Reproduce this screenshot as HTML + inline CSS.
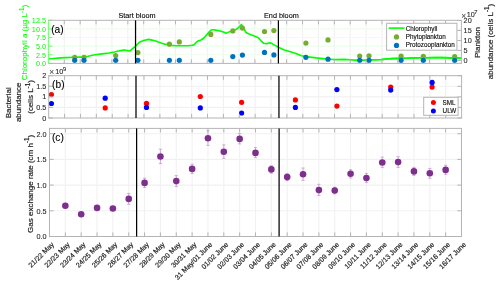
<!DOCTYPE html>
<html><head><meta charset="utf-8"><title>Figure</title>
<style>html,body{margin:0;padding:0;background:#fff;}body{width:500px;height:285px;overflow:hidden;}svg{display:block;}</style>
</head><body>
<svg width="500" height="285" viewBox="0 0 500 285" font-family="'Liberation Sans', sans-serif">
<rect width="500" height="285" fill="#fff"/>
<line x1="64.28" y1="20.3" x2="64.28" y2="63.4" stroke="#f1f1f1" stroke-width="1.1"/>
<line x1="80.17" y1="20.3" x2="80.17" y2="63.4" stroke="#f1f1f1" stroke-width="1.1"/>
<line x1="96.05" y1="20.3" x2="96.05" y2="63.4" stroke="#f1f1f1" stroke-width="1.1"/>
<line x1="111.94" y1="20.3" x2="111.94" y2="63.4" stroke="#f1f1f1" stroke-width="1.1"/>
<line x1="127.82" y1="20.3" x2="127.82" y2="63.4" stroke="#f1f1f1" stroke-width="1.1"/>
<line x1="143.71" y1="20.3" x2="143.71" y2="63.4" stroke="#f1f1f1" stroke-width="1.1"/>
<line x1="159.59" y1="20.3" x2="159.59" y2="63.4" stroke="#f1f1f1" stroke-width="1.1"/>
<line x1="175.48" y1="20.3" x2="175.48" y2="63.4" stroke="#f1f1f1" stroke-width="1.1"/>
<line x1="191.36" y1="20.3" x2="191.36" y2="63.4" stroke="#f1f1f1" stroke-width="1.1"/>
<line x1="207.25" y1="20.3" x2="207.25" y2="63.4" stroke="#f1f1f1" stroke-width="1.1"/>
<line x1="223.13" y1="20.3" x2="223.13" y2="63.4" stroke="#f1f1f1" stroke-width="1.1"/>
<line x1="239.02" y1="20.3" x2="239.02" y2="63.4" stroke="#f1f1f1" stroke-width="1.1"/>
<line x1="254.90" y1="20.3" x2="254.90" y2="63.4" stroke="#f1f1f1" stroke-width="1.1"/>
<line x1="270.78" y1="20.3" x2="270.78" y2="63.4" stroke="#f1f1f1" stroke-width="1.1"/>
<line x1="286.67" y1="20.3" x2="286.67" y2="63.4" stroke="#f1f1f1" stroke-width="1.1"/>
<line x1="302.55" y1="20.3" x2="302.55" y2="63.4" stroke="#f1f1f1" stroke-width="1.1"/>
<line x1="318.44" y1="20.3" x2="318.44" y2="63.4" stroke="#f1f1f1" stroke-width="1.1"/>
<line x1="334.32" y1="20.3" x2="334.32" y2="63.4" stroke="#f1f1f1" stroke-width="1.1"/>
<line x1="350.21" y1="20.3" x2="350.21" y2="63.4" stroke="#f1f1f1" stroke-width="1.1"/>
<line x1="366.09" y1="20.3" x2="366.09" y2="63.4" stroke="#f1f1f1" stroke-width="1.1"/>
<line x1="381.98" y1="20.3" x2="381.98" y2="63.4" stroke="#f1f1f1" stroke-width="1.1"/>
<line x1="397.86" y1="20.3" x2="397.86" y2="63.4" stroke="#f1f1f1" stroke-width="1.1"/>
<line x1="413.75" y1="20.3" x2="413.75" y2="63.4" stroke="#f1f1f1" stroke-width="1.1"/>
<line x1="429.63" y1="20.3" x2="429.63" y2="63.4" stroke="#f1f1f1" stroke-width="1.1"/>
<line x1="445.52" y1="20.3" x2="445.52" y2="63.4" stroke="#f1f1f1" stroke-width="1.1"/>
<line x1="48.4" y1="28.92" x2="461.4" y2="28.92" stroke="#e9ffe9" stroke-width="1.1"/>
<line x1="48.4" y1="37.54" x2="461.4" y2="37.54" stroke="#e9ffe9" stroke-width="1.1"/>
<line x1="48.4" y1="46.16" x2="461.4" y2="46.16" stroke="#e9ffe9" stroke-width="1.1"/>
<line x1="48.4" y1="54.78" x2="461.4" y2="54.78" stroke="#e9ffe9" stroke-width="1.1"/>
<polyline fill="none" stroke="#00ff00" stroke-width="1.6" stroke-linejoin="round" points="48.4,59.0 56,58.3 60,57.9 66,57.6 74,57.3 80,57.1 84,56.9 88,56.2 95,54.8 102,53.9 109,53.0 114.6,52.0 118.4,51.0 122,50.4 124.7,50.0 127,50.5 128.9,51.0 130.3,50.6 131.5,49.6 133.5,47.9 135.6,46.1 139.4,42.3 143.6,40.5 148.5,39.4 152,40.1 155.7,41.1 159,42.3 162.5,43.4 166,44.4 171.6,45.4 176,45.7 180,45.8 183.6,45.7 189,45.6 192,45.3 193.9,44.9 196,42.4 198.1,41.0 200.9,40.0 202.5,39.0 204.4,37.5 206.5,35.1 208.6,32.6 210.2,30.9 211.7,29.8 213.5,29.8 215.6,30.1 221.2,31.2 224,32.3 226.1,33.3 227.5,32.6 228.9,31.9 233.8,30.5 237.3,28.7 239.5,26.6 241.4,24.5 243,27.0 246,32.5 249.7,34.3 254.9,36.2 258.3,37.7 260.8,40.6 263.7,43.3 266.7,43.6 270.4,42.8 273.6,44.6 278.5,47.3 283.6,49.8 289.5,51.4 295.4,53.2 301.3,55.8 305,56.4 310,57.1 316,57.9 322.9,58.6 330,59.2 335.7,59.6 344.3,59.4 350,59.8 355,60.1 362,60.1 370,59.9 376,59.9 381.4,59.6 386,59.0 392,58.6 400,58.4 406,58.2 413.6,57.9 425,57.7 435,57.5 442,57.6 450,57.9 456,57.9 461.4,57.9"/>
<circle cx="74.7" cy="57.3" r="2.6" fill="#77ac30"/>
<circle cx="84" cy="57.3" r="2.6" fill="#77ac30"/>
<circle cx="115.7" cy="55.5" r="2.6" fill="#77ac30"/>
<circle cx="137.9" cy="52.6" r="2.6" fill="#77ac30"/>
<circle cx="169.4" cy="44.2" r="2.6" fill="#77ac30"/>
<circle cx="179.3" cy="41.9" r="2.6" fill="#77ac30"/>
<circle cx="210.8" cy="34.4" r="2.6" fill="#77ac30"/>
<circle cx="232.8" cy="30.9" r="2.6" fill="#77ac30"/>
<circle cx="242.4" cy="28.1" r="2.6" fill="#77ac30"/>
<circle cx="264.5" cy="31.6" r="2.6" fill="#77ac30"/>
<circle cx="273.9" cy="30.5" r="2.6" fill="#77ac30"/>
<circle cx="305.9" cy="43.1" r="2.6" fill="#77ac30"/>
<circle cx="328" cy="39.9" r="2.6" fill="#77ac30"/>
<circle cx="359.7" cy="56" r="2.6" fill="#77ac30"/>
<circle cx="369" cy="55.8" r="2.6" fill="#77ac30"/>
<circle cx="401.1" cy="56" r="2.6" fill="#77ac30"/>
<circle cx="423.3" cy="56.4" r="2.6" fill="#77ac30"/>
<circle cx="454.7" cy="56.5" r="2.6" fill="#77ac30"/>
<polyline fill="none" stroke="#00ff00" stroke-width="1.6" stroke-linejoin="round" points="381.4,59.6 386,59.0 392,58.6 400,58.4 406,58.2 413.6,57.9 425,57.7 435,57.5 442,57.6 450,57.9 456,57.9 461.4,57.9"/>
<circle cx="74.7" cy="60.3" r="2.6" fill="#0072bd"/>
<circle cx="84" cy="60.3" r="2.6" fill="#0072bd"/>
<circle cx="115.7" cy="60.3" r="2.6" fill="#0072bd"/>
<circle cx="137.9" cy="60.3" r="2.6" fill="#0072bd"/>
<circle cx="169.4" cy="60.3" r="2.6" fill="#0072bd"/>
<circle cx="179.3" cy="60.3" r="2.6" fill="#0072bd"/>
<circle cx="210.8" cy="60.3" r="2.6" fill="#0072bd"/>
<circle cx="232.8" cy="56.6" r="2.6" fill="#0072bd"/>
<circle cx="242.4" cy="55.1" r="2.6" fill="#0072bd"/>
<circle cx="264.5" cy="52.4" r="2.6" fill="#0072bd"/>
<circle cx="273.9" cy="54.9" r="2.6" fill="#0072bd"/>
<circle cx="305.9" cy="57.3" r="2.6" fill="#0072bd"/>
<circle cx="328" cy="59.2" r="2.6" fill="#0072bd"/>
<circle cx="359.7" cy="60.3" r="2.6" fill="#0072bd"/>
<circle cx="369" cy="60.3" r="2.6" fill="#0072bd"/>
<circle cx="401.1" cy="60.3" r="2.6" fill="#0072bd"/>
<circle cx="423.3" cy="60.3" r="2.6" fill="#0072bd"/>
<circle cx="454.7" cy="60.3" r="2.6" fill="#0072bd"/>
<line x1="64.28" y1="20.3" x2="64.28" y2="24.4" stroke="#b4b4b4" stroke-width="1"/>
<line x1="64.28" y1="63.4" x2="64.28" y2="59.3" stroke="#b4b4b4" stroke-width="1"/>
<line x1="80.17" y1="20.3" x2="80.17" y2="24.4" stroke="#b4b4b4" stroke-width="1"/>
<line x1="80.17" y1="63.4" x2="80.17" y2="59.3" stroke="#b4b4b4" stroke-width="1"/>
<line x1="96.05" y1="20.3" x2="96.05" y2="24.4" stroke="#b4b4b4" stroke-width="1"/>
<line x1="96.05" y1="63.4" x2="96.05" y2="59.3" stroke="#b4b4b4" stroke-width="1"/>
<line x1="111.94" y1="20.3" x2="111.94" y2="24.4" stroke="#b4b4b4" stroke-width="1"/>
<line x1="111.94" y1="63.4" x2="111.94" y2="59.3" stroke="#b4b4b4" stroke-width="1"/>
<line x1="127.82" y1="20.3" x2="127.82" y2="24.4" stroke="#b4b4b4" stroke-width="1"/>
<line x1="127.82" y1="63.4" x2="127.82" y2="59.3" stroke="#b4b4b4" stroke-width="1"/>
<line x1="143.71" y1="20.3" x2="143.71" y2="24.4" stroke="#b4b4b4" stroke-width="1"/>
<line x1="143.71" y1="63.4" x2="143.71" y2="59.3" stroke="#b4b4b4" stroke-width="1"/>
<line x1="159.59" y1="20.3" x2="159.59" y2="24.4" stroke="#b4b4b4" stroke-width="1"/>
<line x1="159.59" y1="63.4" x2="159.59" y2="59.3" stroke="#b4b4b4" stroke-width="1"/>
<line x1="175.48" y1="20.3" x2="175.48" y2="24.4" stroke="#b4b4b4" stroke-width="1"/>
<line x1="175.48" y1="63.4" x2="175.48" y2="59.3" stroke="#b4b4b4" stroke-width="1"/>
<line x1="191.36" y1="20.3" x2="191.36" y2="24.4" stroke="#b4b4b4" stroke-width="1"/>
<line x1="191.36" y1="63.4" x2="191.36" y2="59.3" stroke="#b4b4b4" stroke-width="1"/>
<line x1="207.25" y1="20.3" x2="207.25" y2="24.4" stroke="#b4b4b4" stroke-width="1"/>
<line x1="207.25" y1="63.4" x2="207.25" y2="59.3" stroke="#b4b4b4" stroke-width="1"/>
<line x1="223.13" y1="20.3" x2="223.13" y2="24.4" stroke="#b4b4b4" stroke-width="1"/>
<line x1="223.13" y1="63.4" x2="223.13" y2="59.3" stroke="#b4b4b4" stroke-width="1"/>
<line x1="239.02" y1="20.3" x2="239.02" y2="24.4" stroke="#b4b4b4" stroke-width="1"/>
<line x1="239.02" y1="63.4" x2="239.02" y2="59.3" stroke="#b4b4b4" stroke-width="1"/>
<line x1="254.90" y1="20.3" x2="254.90" y2="24.4" stroke="#b4b4b4" stroke-width="1"/>
<line x1="254.90" y1="63.4" x2="254.90" y2="59.3" stroke="#b4b4b4" stroke-width="1"/>
<line x1="270.78" y1="20.3" x2="270.78" y2="24.4" stroke="#b4b4b4" stroke-width="1"/>
<line x1="270.78" y1="63.4" x2="270.78" y2="59.3" stroke="#b4b4b4" stroke-width="1"/>
<line x1="286.67" y1="20.3" x2="286.67" y2="24.4" stroke="#b4b4b4" stroke-width="1"/>
<line x1="286.67" y1="63.4" x2="286.67" y2="59.3" stroke="#b4b4b4" stroke-width="1"/>
<line x1="302.55" y1="20.3" x2="302.55" y2="24.4" stroke="#b4b4b4" stroke-width="1"/>
<line x1="302.55" y1="63.4" x2="302.55" y2="59.3" stroke="#b4b4b4" stroke-width="1"/>
<line x1="318.44" y1="20.3" x2="318.44" y2="24.4" stroke="#b4b4b4" stroke-width="1"/>
<line x1="318.44" y1="63.4" x2="318.44" y2="59.3" stroke="#b4b4b4" stroke-width="1"/>
<line x1="334.32" y1="20.3" x2="334.32" y2="24.4" stroke="#b4b4b4" stroke-width="1"/>
<line x1="334.32" y1="63.4" x2="334.32" y2="59.3" stroke="#b4b4b4" stroke-width="1"/>
<line x1="350.21" y1="20.3" x2="350.21" y2="24.4" stroke="#b4b4b4" stroke-width="1"/>
<line x1="350.21" y1="63.4" x2="350.21" y2="59.3" stroke="#b4b4b4" stroke-width="1"/>
<line x1="366.09" y1="20.3" x2="366.09" y2="24.4" stroke="#b4b4b4" stroke-width="1"/>
<line x1="366.09" y1="63.4" x2="366.09" y2="59.3" stroke="#b4b4b4" stroke-width="1"/>
<line x1="381.98" y1="20.3" x2="381.98" y2="24.4" stroke="#b4b4b4" stroke-width="1"/>
<line x1="381.98" y1="63.4" x2="381.98" y2="59.3" stroke="#b4b4b4" stroke-width="1"/>
<line x1="397.86" y1="20.3" x2="397.86" y2="24.4" stroke="#b4b4b4" stroke-width="1"/>
<line x1="397.86" y1="63.4" x2="397.86" y2="59.3" stroke="#b4b4b4" stroke-width="1"/>
<line x1="413.75" y1="20.3" x2="413.75" y2="24.4" stroke="#b4b4b4" stroke-width="1"/>
<line x1="413.75" y1="63.4" x2="413.75" y2="59.3" stroke="#b4b4b4" stroke-width="1"/>
<line x1="429.63" y1="20.3" x2="429.63" y2="24.4" stroke="#b4b4b4" stroke-width="1"/>
<line x1="429.63" y1="63.4" x2="429.63" y2="59.3" stroke="#b4b4b4" stroke-width="1"/>
<line x1="445.52" y1="20.3" x2="445.52" y2="24.4" stroke="#b4b4b4" stroke-width="1"/>
<line x1="445.52" y1="63.4" x2="445.52" y2="59.3" stroke="#b4b4b4" stroke-width="1"/>
<line x1="48.4" y1="20.30" x2="52.5" y2="20.30" stroke="#6cff6c" stroke-width="1"/>
<line x1="48.4" y1="28.92" x2="52.5" y2="28.92" stroke="#6cff6c" stroke-width="1"/>
<line x1="48.4" y1="37.54" x2="52.5" y2="37.54" stroke="#6cff6c" stroke-width="1"/>
<line x1="48.4" y1="46.16" x2="52.5" y2="46.16" stroke="#6cff6c" stroke-width="1"/>
<line x1="48.4" y1="54.78" x2="52.5" y2="54.78" stroke="#6cff6c" stroke-width="1"/>
<line x1="48.4" y1="63.40" x2="52.5" y2="63.40" stroke="#6cff6c" stroke-width="1"/>
<line x1="461.4" y1="60.40" x2="457.29999999999995" y2="60.40" stroke="#b4b4b4" stroke-width="1"/>
<line x1="461.4" y1="50.42" x2="457.29999999999995" y2="50.42" stroke="#b4b4b4" stroke-width="1"/>
<line x1="461.4" y1="40.45" x2="457.29999999999995" y2="40.45" stroke="#b4b4b4" stroke-width="1"/>
<line x1="461.4" y1="30.48" x2="457.29999999999995" y2="30.48" stroke="#b4b4b4" stroke-width="1"/>
<line x1="461.4" y1="20.50" x2="457.29999999999995" y2="20.50" stroke="#b4b4b4" stroke-width="1"/>
<line x1="48.4" y1="20.3" x2="461.4" y2="20.3" stroke="#b4b4b4" stroke-width="1"/>
<line x1="48.4" y1="63.4" x2="461.4" y2="63.4" stroke="#b4b4b4" stroke-width="1"/>
<line x1="461.4" y1="19.8" x2="461.4" y2="63.9" stroke="#b4b4b4" stroke-width="1"/>
<line x1="48.4" y1="19.8" x2="48.4" y2="63.9" stroke="#6cff6c" stroke-width="1"/>
<line x1="135.55" y1="20.3" x2="135.55" y2="63.4" stroke="#000" stroke-width="1.25"/>
<line x1="278.4" y1="20.3" x2="278.4" y2="63.4" stroke="#000" stroke-width="1.25"/>
<rect x="386.6" y="23.3" width="70.3" height="26.9" fill="#fff" stroke="#b4b4b4" stroke-width="1"/>
<line x1="388.6" y1="28.1" x2="404.6" y2="28.1" stroke="#00ff00" stroke-width="1.6"/>
<circle cx="396.5" cy="36.9" r="2.6" fill="#77ac30"/>
<circle cx="396.5" cy="45.4" r="2.6" fill="#0072bd"/>
<text x="405.80" y="30.50" font-size="6.3" fill="#000" stroke="#000" stroke-width="0.1" text-anchor="start" >Chlorophyll</text>
<text x="405.80" y="38.90" font-size="6.3" fill="#000" stroke="#000" stroke-width="0.1" text-anchor="start" >Phytoplankton</text>
<text x="405.80" y="47.40" font-size="6.3" fill="#000" stroke="#000" stroke-width="0.1" text-anchor="start" >Protozooplankton</text>
<text x="46.00" y="23.20" font-size="7.27" fill="#00ff00" stroke="#00ff00" stroke-width="0" text-anchor="end" >12.5</text>
<text x="46.00" y="31.82" font-size="7.27" fill="#00ff00" stroke="#00ff00" stroke-width="0" text-anchor="end" >10.0</text>
<text x="46.00" y="40.44" font-size="7.27" fill="#00ff00" stroke="#00ff00" stroke-width="0" text-anchor="end" >7.5</text>
<text x="46.00" y="49.06" font-size="7.27" fill="#00ff00" stroke="#00ff00" stroke-width="0" text-anchor="end" >5.0</text>
<text x="46.00" y="57.68" font-size="7.27" fill="#00ff00" stroke="#00ff00" stroke-width="0" text-anchor="end" >2.5</text>
<text x="46.00" y="66.30" font-size="7.27" fill="#00ff00" stroke="#00ff00" stroke-width="0" text-anchor="end" >0.0</text>
<text x="463.60" y="63.00" font-size="7.27" fill="#262626" stroke="#262626" stroke-width="0.1" text-anchor="start" >0</text>
<text x="463.60" y="53.02" font-size="7.27" fill="#262626" stroke="#262626" stroke-width="0.1" text-anchor="start" >5</text>
<text x="463.60" y="43.05" font-size="7.27" fill="#262626" stroke="#262626" stroke-width="0.1" text-anchor="start" >10</text>
<text x="463.60" y="33.08" font-size="7.27" fill="#262626" stroke="#262626" stroke-width="0.1" text-anchor="start" >15</text>
<text x="463.60" y="23.10" font-size="7.27" fill="#262626" stroke="#262626" stroke-width="0.1" text-anchor="start" >20</text>
<text x="461.20" y="18.60" font-size="8.4" fill="#4a4a4a" stroke="#4a4a4a" stroke-width="0.1" text-anchor="start" >×</text>
<text x="466.80" y="16.80" font-size="7.27" fill="#262626" stroke="#262626" stroke-width="0.1" text-anchor="start" >10</text>
<text x="474.20" y="14.20" font-size="5.8" fill="#262626" stroke="#262626" stroke-width="0.1" text-anchor="start" >7</text>
<text transform="translate(27.30,42.50) rotate(-90)" font-size="8.0" fill="#00ff00" stroke="#00ff00" stroke-width="0.05" text-anchor="middle">Chlorophyll <tspan font-style="italic">a</tspan> (µg L<tspan dy="-3.2" font-size="6.4">-1</tspan><tspan dy="3.2">)</tspan></text>
<text transform="translate(479.80,42.50) rotate(-90)" font-size="8.0" fill="#262626" stroke="#262626" stroke-width="0.2" text-anchor="middle">Plankton</text>
<text transform="translate(492.60,41.50) rotate(-90)" font-size="8.0" fill="#262626" stroke="#262626" stroke-width="0.2" text-anchor="middle">abundance (cells L<tspan dy="-3.2" font-size="6.4">-1</tspan><tspan dy="3.2">)</tspan></text>
<text x="51.20" y="32.80" font-size="10.2" fill="#000" stroke="#000" stroke-width="0.1" text-anchor="start" >(a)</text>
<text x="137.00" y="18.10" font-size="7.27" fill="#000" stroke="#000" stroke-width="0.1" text-anchor="middle" >Start bloom</text>
<text x="281.40" y="18.10" font-size="7.27" fill="#000" stroke="#000" stroke-width="0.1" text-anchor="middle" >End bloom</text>
<line x1="64.58" y1="75.7" x2="64.58" y2="118.0" stroke="#f1f1f1" stroke-width="1.1"/>
<line x1="80.46" y1="75.7" x2="80.46" y2="118.0" stroke="#f1f1f1" stroke-width="1.1"/>
<line x1="96.34" y1="75.7" x2="96.34" y2="118.0" stroke="#f1f1f1" stroke-width="1.1"/>
<line x1="112.22" y1="75.7" x2="112.22" y2="118.0" stroke="#f1f1f1" stroke-width="1.1"/>
<line x1="128.10" y1="75.7" x2="128.10" y2="118.0" stroke="#f1f1f1" stroke-width="1.1"/>
<line x1="143.98" y1="75.7" x2="143.98" y2="118.0" stroke="#f1f1f1" stroke-width="1.1"/>
<line x1="159.87" y1="75.7" x2="159.87" y2="118.0" stroke="#f1f1f1" stroke-width="1.1"/>
<line x1="175.75" y1="75.7" x2="175.75" y2="118.0" stroke="#f1f1f1" stroke-width="1.1"/>
<line x1="191.63" y1="75.7" x2="191.63" y2="118.0" stroke="#f1f1f1" stroke-width="1.1"/>
<line x1="207.51" y1="75.7" x2="207.51" y2="118.0" stroke="#f1f1f1" stroke-width="1.1"/>
<line x1="223.39" y1="75.7" x2="223.39" y2="118.0" stroke="#f1f1f1" stroke-width="1.1"/>
<line x1="239.27" y1="75.7" x2="239.27" y2="118.0" stroke="#f1f1f1" stroke-width="1.1"/>
<line x1="255.15" y1="75.7" x2="255.15" y2="118.0" stroke="#f1f1f1" stroke-width="1.1"/>
<line x1="271.03" y1="75.7" x2="271.03" y2="118.0" stroke="#f1f1f1" stroke-width="1.1"/>
<line x1="286.91" y1="75.7" x2="286.91" y2="118.0" stroke="#f1f1f1" stroke-width="1.1"/>
<line x1="302.79" y1="75.7" x2="302.79" y2="118.0" stroke="#f1f1f1" stroke-width="1.1"/>
<line x1="318.67" y1="75.7" x2="318.67" y2="118.0" stroke="#f1f1f1" stroke-width="1.1"/>
<line x1="334.55" y1="75.7" x2="334.55" y2="118.0" stroke="#f1f1f1" stroke-width="1.1"/>
<line x1="350.43" y1="75.7" x2="350.43" y2="118.0" stroke="#f1f1f1" stroke-width="1.1"/>
<line x1="366.32" y1="75.7" x2="366.32" y2="118.0" stroke="#f1f1f1" stroke-width="1.1"/>
<line x1="382.20" y1="75.7" x2="382.20" y2="118.0" stroke="#f1f1f1" stroke-width="1.1"/>
<line x1="398.08" y1="75.7" x2="398.08" y2="118.0" stroke="#f1f1f1" stroke-width="1.1"/>
<line x1="413.96" y1="75.7" x2="413.96" y2="118.0" stroke="#f1f1f1" stroke-width="1.1"/>
<line x1="429.84" y1="75.7" x2="429.84" y2="118.0" stroke="#f1f1f1" stroke-width="1.1"/>
<line x1="445.72" y1="75.7" x2="445.72" y2="118.0" stroke="#f1f1f1" stroke-width="1.1"/>
<line x1="48.7" y1="86.28" x2="461.6" y2="86.28" stroke="#f1f1f1" stroke-width="1.1"/>
<line x1="48.7" y1="96.85" x2="461.6" y2="96.85" stroke="#f1f1f1" stroke-width="1.1"/>
<line x1="48.7" y1="107.42" x2="461.6" y2="107.42" stroke="#f1f1f1" stroke-width="1.1"/>
<circle cx="51.4" cy="94.6" r="2.6" fill="#ff0000"/>
<circle cx="105.2" cy="107.9" r="2.6" fill="#ff0000"/>
<circle cx="146.5" cy="103.4" r="2.6" fill="#ff0000"/>
<circle cx="200.3" cy="96.5" r="2.6" fill="#ff0000"/>
<circle cx="241.6" cy="102.3" r="2.6" fill="#ff0000"/>
<circle cx="295.4" cy="99.9" r="2.6" fill="#ff0000"/>
<circle cx="336.9" cy="106.1" r="2.6" fill="#ff0000"/>
<circle cx="390.7" cy="87.1" r="2.6" fill="#ff0000"/>
<circle cx="432.1" cy="87.1" r="2.6" fill="#ff0000"/>
<circle cx="51.4" cy="103.5" r="2.6" fill="#0000ff"/>
<circle cx="105.2" cy="98.2" r="2.6" fill="#0000ff"/>
<circle cx="146.5" cy="107.4" r="2.6" fill="#0000ff"/>
<circle cx="200.3" cy="107.9" r="2.6" fill="#0000ff"/>
<circle cx="241.6" cy="113" r="2.6" fill="#0000ff"/>
<circle cx="295.4" cy="107.4" r="2.6" fill="#0000ff"/>
<circle cx="336.9" cy="89.6" r="2.6" fill="#0000ff"/>
<circle cx="390.7" cy="90.1" r="2.6" fill="#0000ff"/>
<circle cx="432.1" cy="82.4" r="2.6" fill="#0000ff"/>
<line x1="64.58" y1="75.7" x2="64.58" y2="79.8" stroke="#b4b4b4" stroke-width="1"/>
<line x1="64.58" y1="118.0" x2="64.58" y2="113.9" stroke="#b4b4b4" stroke-width="1"/>
<line x1="80.46" y1="75.7" x2="80.46" y2="79.8" stroke="#b4b4b4" stroke-width="1"/>
<line x1="80.46" y1="118.0" x2="80.46" y2="113.9" stroke="#b4b4b4" stroke-width="1"/>
<line x1="96.34" y1="75.7" x2="96.34" y2="79.8" stroke="#b4b4b4" stroke-width="1"/>
<line x1="96.34" y1="118.0" x2="96.34" y2="113.9" stroke="#b4b4b4" stroke-width="1"/>
<line x1="112.22" y1="75.7" x2="112.22" y2="79.8" stroke="#b4b4b4" stroke-width="1"/>
<line x1="112.22" y1="118.0" x2="112.22" y2="113.9" stroke="#b4b4b4" stroke-width="1"/>
<line x1="128.10" y1="75.7" x2="128.10" y2="79.8" stroke="#b4b4b4" stroke-width="1"/>
<line x1="128.10" y1="118.0" x2="128.10" y2="113.9" stroke="#b4b4b4" stroke-width="1"/>
<line x1="143.98" y1="75.7" x2="143.98" y2="79.8" stroke="#b4b4b4" stroke-width="1"/>
<line x1="143.98" y1="118.0" x2="143.98" y2="113.9" stroke="#b4b4b4" stroke-width="1"/>
<line x1="159.87" y1="75.7" x2="159.87" y2="79.8" stroke="#b4b4b4" stroke-width="1"/>
<line x1="159.87" y1="118.0" x2="159.87" y2="113.9" stroke="#b4b4b4" stroke-width="1"/>
<line x1="175.75" y1="75.7" x2="175.75" y2="79.8" stroke="#b4b4b4" stroke-width="1"/>
<line x1="175.75" y1="118.0" x2="175.75" y2="113.9" stroke="#b4b4b4" stroke-width="1"/>
<line x1="191.63" y1="75.7" x2="191.63" y2="79.8" stroke="#b4b4b4" stroke-width="1"/>
<line x1="191.63" y1="118.0" x2="191.63" y2="113.9" stroke="#b4b4b4" stroke-width="1"/>
<line x1="207.51" y1="75.7" x2="207.51" y2="79.8" stroke="#b4b4b4" stroke-width="1"/>
<line x1="207.51" y1="118.0" x2="207.51" y2="113.9" stroke="#b4b4b4" stroke-width="1"/>
<line x1="223.39" y1="75.7" x2="223.39" y2="79.8" stroke="#b4b4b4" stroke-width="1"/>
<line x1="223.39" y1="118.0" x2="223.39" y2="113.9" stroke="#b4b4b4" stroke-width="1"/>
<line x1="239.27" y1="75.7" x2="239.27" y2="79.8" stroke="#b4b4b4" stroke-width="1"/>
<line x1="239.27" y1="118.0" x2="239.27" y2="113.9" stroke="#b4b4b4" stroke-width="1"/>
<line x1="255.15" y1="75.7" x2="255.15" y2="79.8" stroke="#b4b4b4" stroke-width="1"/>
<line x1="255.15" y1="118.0" x2="255.15" y2="113.9" stroke="#b4b4b4" stroke-width="1"/>
<line x1="271.03" y1="75.7" x2="271.03" y2="79.8" stroke="#b4b4b4" stroke-width="1"/>
<line x1="271.03" y1="118.0" x2="271.03" y2="113.9" stroke="#b4b4b4" stroke-width="1"/>
<line x1="286.91" y1="75.7" x2="286.91" y2="79.8" stroke="#b4b4b4" stroke-width="1"/>
<line x1="286.91" y1="118.0" x2="286.91" y2="113.9" stroke="#b4b4b4" stroke-width="1"/>
<line x1="302.79" y1="75.7" x2="302.79" y2="79.8" stroke="#b4b4b4" stroke-width="1"/>
<line x1="302.79" y1="118.0" x2="302.79" y2="113.9" stroke="#b4b4b4" stroke-width="1"/>
<line x1="318.67" y1="75.7" x2="318.67" y2="79.8" stroke="#b4b4b4" stroke-width="1"/>
<line x1="318.67" y1="118.0" x2="318.67" y2="113.9" stroke="#b4b4b4" stroke-width="1"/>
<line x1="334.55" y1="75.7" x2="334.55" y2="79.8" stroke="#b4b4b4" stroke-width="1"/>
<line x1="334.55" y1="118.0" x2="334.55" y2="113.9" stroke="#b4b4b4" stroke-width="1"/>
<line x1="350.43" y1="75.7" x2="350.43" y2="79.8" stroke="#b4b4b4" stroke-width="1"/>
<line x1="350.43" y1="118.0" x2="350.43" y2="113.9" stroke="#b4b4b4" stroke-width="1"/>
<line x1="366.32" y1="75.7" x2="366.32" y2="79.8" stroke="#b4b4b4" stroke-width="1"/>
<line x1="366.32" y1="118.0" x2="366.32" y2="113.9" stroke="#b4b4b4" stroke-width="1"/>
<line x1="382.20" y1="75.7" x2="382.20" y2="79.8" stroke="#b4b4b4" stroke-width="1"/>
<line x1="382.20" y1="118.0" x2="382.20" y2="113.9" stroke="#b4b4b4" stroke-width="1"/>
<line x1="398.08" y1="75.7" x2="398.08" y2="79.8" stroke="#b4b4b4" stroke-width="1"/>
<line x1="398.08" y1="118.0" x2="398.08" y2="113.9" stroke="#b4b4b4" stroke-width="1"/>
<line x1="413.96" y1="75.7" x2="413.96" y2="79.8" stroke="#b4b4b4" stroke-width="1"/>
<line x1="413.96" y1="118.0" x2="413.96" y2="113.9" stroke="#b4b4b4" stroke-width="1"/>
<line x1="429.84" y1="75.7" x2="429.84" y2="79.8" stroke="#b4b4b4" stroke-width="1"/>
<line x1="429.84" y1="118.0" x2="429.84" y2="113.9" stroke="#b4b4b4" stroke-width="1"/>
<line x1="445.72" y1="75.7" x2="445.72" y2="79.8" stroke="#b4b4b4" stroke-width="1"/>
<line x1="445.72" y1="118.0" x2="445.72" y2="113.9" stroke="#b4b4b4" stroke-width="1"/>
<line x1="48.7" y1="75.70" x2="52.800000000000004" y2="75.70" stroke="#b4b4b4" stroke-width="1"/>
<line x1="48.7" y1="86.28" x2="52.800000000000004" y2="86.28" stroke="#b4b4b4" stroke-width="1"/>
<line x1="48.7" y1="96.85" x2="52.800000000000004" y2="96.85" stroke="#b4b4b4" stroke-width="1"/>
<line x1="48.7" y1="107.42" x2="52.800000000000004" y2="107.42" stroke="#b4b4b4" stroke-width="1"/>
<line x1="48.7" y1="118.00" x2="52.800000000000004" y2="118.00" stroke="#b4b4b4" stroke-width="1"/>
<line x1="461.6" y1="75.70" x2="457.5" y2="75.70" stroke="#b4b4b4" stroke-width="1"/>
<line x1="461.6" y1="86.28" x2="457.5" y2="86.28" stroke="#b4b4b4" stroke-width="1"/>
<line x1="461.6" y1="96.85" x2="457.5" y2="96.85" stroke="#b4b4b4" stroke-width="1"/>
<line x1="461.6" y1="107.42" x2="457.5" y2="107.42" stroke="#b4b4b4" stroke-width="1"/>
<line x1="461.6" y1="118.00" x2="457.5" y2="118.00" stroke="#b4b4b4" stroke-width="1"/>
<line x1="48.7" y1="75.7" x2="461.6" y2="75.7" stroke="#b4b4b4" stroke-width="1"/>
<line x1="48.7" y1="118.0" x2="461.6" y2="118.0" stroke="#b4b4b4" stroke-width="1"/>
<line x1="461.6" y1="75.2" x2="461.6" y2="118.5" stroke="#b4b4b4" stroke-width="1"/>
<line x1="48.7" y1="75.2" x2="48.7" y2="118.5" stroke="#b4b4b4" stroke-width="1"/>
<line x1="136.0" y1="75.7" x2="136.0" y2="118.0" stroke="#000" stroke-width="1.25"/>
<line x1="278.95" y1="75.7" x2="278.95" y2="118.0" stroke="#000" stroke-width="1.25"/>
<rect x="423.7" y="97.3" width="34.4" height="18.0" fill="#fff" stroke="#b4b4b4" stroke-width="1"/>
<circle cx="433.4" cy="102.5" r="2.5" fill="#ff0000"/>
<circle cx="433.4" cy="110.9" r="2.5" fill="#0000ff"/>
<text x="442.60" y="104.90" font-size="6.3" fill="#000" stroke="#000" stroke-width="0.1" text-anchor="start" >SML</text>
<text x="442.60" y="113.20" font-size="6.3" fill="#000" stroke="#000" stroke-width="0.1" text-anchor="start" >ULW</text>
<text x="46.30" y="78.30" font-size="7.27" fill="#262626" stroke="#262626" stroke-width="0.1" text-anchor="end" >2</text>
<text x="46.30" y="88.88" font-size="7.27" fill="#262626" stroke="#262626" stroke-width="0.1" text-anchor="end" >1.5</text>
<text x="46.30" y="99.45" font-size="7.27" fill="#262626" stroke="#262626" stroke-width="0.1" text-anchor="end" >1</text>
<text x="46.30" y="110.02" font-size="7.27" fill="#262626" stroke="#262626" stroke-width="0.1" text-anchor="end" >0.5</text>
<text x="46.30" y="120.60" font-size="7.27" fill="#262626" stroke="#262626" stroke-width="0.1" text-anchor="end" >0</text>
<text x="49.30" y="74.60" font-size="8.4" fill="#4a4a4a" stroke="#4a4a4a" stroke-width="0.1" text-anchor="start" >×</text>
<text x="55.30" y="73.90" font-size="7.27" fill="#262626" stroke="#262626" stroke-width="0.1" text-anchor="start" >10</text>
<text x="63.00" y="70.50" font-size="5.8" fill="#262626" stroke="#262626" stroke-width="0.1" text-anchor="start" >9</text>
<text transform="translate(10.60,102.80) rotate(-90)" font-size="8.0" fill="#262626" stroke="#262626" stroke-width="0.2" text-anchor="middle">Bacterial</text>
<text transform="translate(21.30,102.30) rotate(-90)" font-size="8.0" fill="#262626" stroke="#262626" stroke-width="0.2" text-anchor="middle">abundance</text>
<text transform="translate(32.80,96.90) rotate(-90)" font-size="8.0" fill="#262626" stroke="#262626" stroke-width="0.2" text-anchor="middle">(cells L<tspan dy="-3.2" font-size="6.4">-1</tspan><tspan dy="3.2">)</tspan></text>
<text x="52.10" y="87.70" font-size="10.2" fill="#000" stroke="#000" stroke-width="0.1" text-anchor="start" >(b)</text>
<line x1="65.35" y1="128.4" x2="65.35" y2="236.5" stroke="#f1f1f1" stroke-width="1.1"/>
<line x1="81.19" y1="128.4" x2="81.19" y2="236.5" stroke="#f1f1f1" stroke-width="1.1"/>
<line x1="97.04" y1="128.4" x2="97.04" y2="236.5" stroke="#f1f1f1" stroke-width="1.1"/>
<line x1="112.88" y1="128.4" x2="112.88" y2="236.5" stroke="#f1f1f1" stroke-width="1.1"/>
<line x1="128.73" y1="128.4" x2="128.73" y2="236.5" stroke="#f1f1f1" stroke-width="1.1"/>
<line x1="144.58" y1="128.4" x2="144.58" y2="236.5" stroke="#f1f1f1" stroke-width="1.1"/>
<line x1="160.42" y1="128.4" x2="160.42" y2="236.5" stroke="#f1f1f1" stroke-width="1.1"/>
<line x1="176.27" y1="128.4" x2="176.27" y2="236.5" stroke="#f1f1f1" stroke-width="1.1"/>
<line x1="192.12" y1="128.4" x2="192.12" y2="236.5" stroke="#f1f1f1" stroke-width="1.1"/>
<line x1="207.96" y1="128.4" x2="207.96" y2="236.5" stroke="#f1f1f1" stroke-width="1.1"/>
<line x1="223.81" y1="128.4" x2="223.81" y2="236.5" stroke="#f1f1f1" stroke-width="1.1"/>
<line x1="239.65" y1="128.4" x2="239.65" y2="236.5" stroke="#f1f1f1" stroke-width="1.1"/>
<line x1="255.50" y1="128.4" x2="255.50" y2="236.5" stroke="#f1f1f1" stroke-width="1.1"/>
<line x1="271.35" y1="128.4" x2="271.35" y2="236.5" stroke="#f1f1f1" stroke-width="1.1"/>
<line x1="287.19" y1="128.4" x2="287.19" y2="236.5" stroke="#f1f1f1" stroke-width="1.1"/>
<line x1="303.04" y1="128.4" x2="303.04" y2="236.5" stroke="#f1f1f1" stroke-width="1.1"/>
<line x1="318.88" y1="128.4" x2="318.88" y2="236.5" stroke="#f1f1f1" stroke-width="1.1"/>
<line x1="334.73" y1="128.4" x2="334.73" y2="236.5" stroke="#f1f1f1" stroke-width="1.1"/>
<line x1="350.58" y1="128.4" x2="350.58" y2="236.5" stroke="#f1f1f1" stroke-width="1.1"/>
<line x1="366.42" y1="128.4" x2="366.42" y2="236.5" stroke="#f1f1f1" stroke-width="1.1"/>
<line x1="382.27" y1="128.4" x2="382.27" y2="236.5" stroke="#f1f1f1" stroke-width="1.1"/>
<line x1="398.12" y1="128.4" x2="398.12" y2="236.5" stroke="#f1f1f1" stroke-width="1.1"/>
<line x1="413.96" y1="128.4" x2="413.96" y2="236.5" stroke="#f1f1f1" stroke-width="1.1"/>
<line x1="429.81" y1="128.4" x2="429.81" y2="236.5" stroke="#f1f1f1" stroke-width="1.1"/>
<line x1="445.65" y1="128.4" x2="445.65" y2="236.5" stroke="#f1f1f1" stroke-width="1.1"/>
<line x1="49.5" y1="133.70" x2="461.5" y2="133.70" stroke="#f1f1f1" stroke-width="1.1"/>
<line x1="49.5" y1="159.40" x2="461.5" y2="159.40" stroke="#f1f1f1" stroke-width="1.1"/>
<line x1="49.5" y1="185.10" x2="461.5" y2="185.10" stroke="#f1f1f1" stroke-width="1.1"/>
<line x1="49.5" y1="210.80" x2="461.5" y2="210.80" stroke="#f1f1f1" stroke-width="1.1"/>
<path d="M128.73,193.4V204.3M127.13,193.4h3.2M127.13,204.3h3.2" stroke="#c49bcb" stroke-width="0.8" fill="none"/>
<path d="M144.58,178.2V187.4M142.98,178.2h3.2M142.98,187.4h3.2" stroke="#c49bcb" stroke-width="0.8" fill="none"/>
<path d="M160.42,149.2V163.6M158.82,149.2h3.2M158.82,163.6h3.2" stroke="#c49bcb" stroke-width="0.8" fill="none"/>
<path d="M176.27,175.6V186.6M174.67,175.6h3.2M174.67,186.6h3.2" stroke="#c49bcb" stroke-width="0.8" fill="none"/>
<path d="M192.12,164.2V173.5M190.52,164.2h3.2M190.52,173.5h3.2" stroke="#c49bcb" stroke-width="0.8" fill="none"/>
<path d="M207.96,130.7V145.4M206.36,130.7h3.2M206.36,145.4h3.2" stroke="#c49bcb" stroke-width="0.8" fill="none"/>
<path d="M223.81,144.9V158.4M222.21,144.9h3.2M222.21,158.4h3.2" stroke="#c49bcb" stroke-width="0.8" fill="none"/>
<path d="M239.65,133.6V143.9M238.05,133.6h3.2M238.05,143.9h3.2" stroke="#c49bcb" stroke-width="0.8" fill="none"/>
<path d="M255.50,147.5V157.6M253.90,147.5h3.2M253.90,157.6h3.2" stroke="#c49bcb" stroke-width="0.8" fill="none"/>
<path d="M271.35,165.7V173.2M269.75,165.7h3.2M269.75,173.2h3.2" stroke="#c49bcb" stroke-width="0.8" fill="none"/>
<path d="M287.19,173.6V180.6M285.59,173.6h3.2M285.59,180.6h3.2" stroke="#c49bcb" stroke-width="0.8" fill="none"/>
<path d="M303.04,168V180.4M301.44,168h3.2M301.44,180.4h3.2" stroke="#c49bcb" stroke-width="0.8" fill="none"/>
<path d="M318.88,184.3V195.6M317.28,184.3h3.2M317.28,195.6h3.2" stroke="#c49bcb" stroke-width="0.8" fill="none"/>
<path d="M334.73,187.2V193.8M333.13,187.2h3.2M333.13,193.8h3.2" stroke="#c49bcb" stroke-width="0.8" fill="none"/>
<path d="M350.58,169.7V177.9M348.98,169.7h3.2M348.98,177.9h3.2" stroke="#c49bcb" stroke-width="0.8" fill="none"/>
<path d="M366.42,173.4V182.4M364.82,173.4h3.2M364.82,182.4h3.2" stroke="#c49bcb" stroke-width="0.8" fill="none"/>
<path d="M382.27,157.1V167.4M380.67,157.1h3.2M380.67,167.4h3.2" stroke="#c49bcb" stroke-width="0.8" fill="none"/>
<path d="M398.12,156.7V167.4M396.52,156.7h3.2M396.52,167.4h3.2" stroke="#c49bcb" stroke-width="0.8" fill="none"/>
<path d="M413.96,167.4V175.4M412.36,167.4h3.2M412.36,175.4h3.2" stroke="#c49bcb" stroke-width="0.8" fill="none"/>
<path d="M429.81,168.4V178.3M428.21,168.4h3.2M428.21,178.3h3.2" stroke="#c49bcb" stroke-width="0.8" fill="none"/>
<path d="M445.65,165.3V174.3M444.05,165.3h3.2M444.05,174.3h3.2" stroke="#c49bcb" stroke-width="0.8" fill="none"/>
<circle cx="65.35" cy="205.7" r="3.3" fill="#7e2f8e"/>
<circle cx="81.19" cy="214.3" r="3.3" fill="#7e2f8e"/>
<circle cx="97.04" cy="207.9" r="3.3" fill="#7e2f8e"/>
<circle cx="112.88" cy="208.5" r="3.3" fill="#7e2f8e"/>
<circle cx="128.73" cy="198.9" r="3.3" fill="#7e2f8e"/>
<circle cx="144.58" cy="182.9" r="3.3" fill="#7e2f8e"/>
<circle cx="160.42" cy="156.5" r="3.3" fill="#7e2f8e"/>
<circle cx="176.27" cy="181.1" r="3.3" fill="#7e2f8e"/>
<circle cx="192.12" cy="168.9" r="3.3" fill="#7e2f8e"/>
<circle cx="207.96" cy="138.3" r="3.3" fill="#7e2f8e"/>
<circle cx="223.81" cy="151.8" r="3.3" fill="#7e2f8e"/>
<circle cx="239.65" cy="138.9" r="3.3" fill="#7e2f8e"/>
<circle cx="255.50" cy="152.9" r="3.3" fill="#7e2f8e"/>
<circle cx="271.35" cy="169.4" r="3.3" fill="#7e2f8e"/>
<circle cx="287.19" cy="177.1" r="3.3" fill="#7e2f8e"/>
<circle cx="303.04" cy="174.2" r="3.3" fill="#7e2f8e"/>
<circle cx="318.88" cy="190.1" r="3.3" fill="#7e2f8e"/>
<circle cx="334.73" cy="190.5" r="3.3" fill="#7e2f8e"/>
<circle cx="350.58" cy="173.8" r="3.3" fill="#7e2f8e"/>
<circle cx="366.42" cy="178.0" r="3.3" fill="#7e2f8e"/>
<circle cx="382.27" cy="162.5" r="3.3" fill="#7e2f8e"/>
<circle cx="398.12" cy="162.1" r="3.3" fill="#7e2f8e"/>
<circle cx="413.96" cy="171.4" r="3.3" fill="#7e2f8e"/>
<circle cx="429.81" cy="173.3" r="3.3" fill="#7e2f8e"/>
<circle cx="445.65" cy="169.9" r="3.3" fill="#7e2f8e"/>
<line x1="65.35" y1="128.4" x2="65.35" y2="132.5" stroke="#b4b4b4" stroke-width="1"/>
<line x1="65.35" y1="236.5" x2="65.35" y2="232.4" stroke="#b4b4b4" stroke-width="1"/>
<line x1="81.19" y1="128.4" x2="81.19" y2="132.5" stroke="#b4b4b4" stroke-width="1"/>
<line x1="81.19" y1="236.5" x2="81.19" y2="232.4" stroke="#b4b4b4" stroke-width="1"/>
<line x1="97.04" y1="128.4" x2="97.04" y2="132.5" stroke="#b4b4b4" stroke-width="1"/>
<line x1="97.04" y1="236.5" x2="97.04" y2="232.4" stroke="#b4b4b4" stroke-width="1"/>
<line x1="112.88" y1="128.4" x2="112.88" y2="132.5" stroke="#b4b4b4" stroke-width="1"/>
<line x1="112.88" y1="236.5" x2="112.88" y2="232.4" stroke="#b4b4b4" stroke-width="1"/>
<line x1="128.73" y1="128.4" x2="128.73" y2="132.5" stroke="#b4b4b4" stroke-width="1"/>
<line x1="128.73" y1="236.5" x2="128.73" y2="232.4" stroke="#b4b4b4" stroke-width="1"/>
<line x1="144.58" y1="128.4" x2="144.58" y2="132.5" stroke="#b4b4b4" stroke-width="1"/>
<line x1="144.58" y1="236.5" x2="144.58" y2="232.4" stroke="#b4b4b4" stroke-width="1"/>
<line x1="160.42" y1="128.4" x2="160.42" y2="132.5" stroke="#b4b4b4" stroke-width="1"/>
<line x1="160.42" y1="236.5" x2="160.42" y2="232.4" stroke="#b4b4b4" stroke-width="1"/>
<line x1="176.27" y1="128.4" x2="176.27" y2="132.5" stroke="#b4b4b4" stroke-width="1"/>
<line x1="176.27" y1="236.5" x2="176.27" y2="232.4" stroke="#b4b4b4" stroke-width="1"/>
<line x1="192.12" y1="128.4" x2="192.12" y2="132.5" stroke="#b4b4b4" stroke-width="1"/>
<line x1="192.12" y1="236.5" x2="192.12" y2="232.4" stroke="#b4b4b4" stroke-width="1"/>
<line x1="207.96" y1="128.4" x2="207.96" y2="132.5" stroke="#b4b4b4" stroke-width="1"/>
<line x1="207.96" y1="236.5" x2="207.96" y2="232.4" stroke="#b4b4b4" stroke-width="1"/>
<line x1="223.81" y1="128.4" x2="223.81" y2="132.5" stroke="#b4b4b4" stroke-width="1"/>
<line x1="223.81" y1="236.5" x2="223.81" y2="232.4" stroke="#b4b4b4" stroke-width="1"/>
<line x1="239.65" y1="128.4" x2="239.65" y2="132.5" stroke="#b4b4b4" stroke-width="1"/>
<line x1="239.65" y1="236.5" x2="239.65" y2="232.4" stroke="#b4b4b4" stroke-width="1"/>
<line x1="255.50" y1="128.4" x2="255.50" y2="132.5" stroke="#b4b4b4" stroke-width="1"/>
<line x1="255.50" y1="236.5" x2="255.50" y2="232.4" stroke="#b4b4b4" stroke-width="1"/>
<line x1="271.35" y1="128.4" x2="271.35" y2="132.5" stroke="#b4b4b4" stroke-width="1"/>
<line x1="271.35" y1="236.5" x2="271.35" y2="232.4" stroke="#b4b4b4" stroke-width="1"/>
<line x1="287.19" y1="128.4" x2="287.19" y2="132.5" stroke="#b4b4b4" stroke-width="1"/>
<line x1="287.19" y1="236.5" x2="287.19" y2="232.4" stroke="#b4b4b4" stroke-width="1"/>
<line x1="303.04" y1="128.4" x2="303.04" y2="132.5" stroke="#b4b4b4" stroke-width="1"/>
<line x1="303.04" y1="236.5" x2="303.04" y2="232.4" stroke="#b4b4b4" stroke-width="1"/>
<line x1="318.88" y1="128.4" x2="318.88" y2="132.5" stroke="#b4b4b4" stroke-width="1"/>
<line x1="318.88" y1="236.5" x2="318.88" y2="232.4" stroke="#b4b4b4" stroke-width="1"/>
<line x1="334.73" y1="128.4" x2="334.73" y2="132.5" stroke="#b4b4b4" stroke-width="1"/>
<line x1="334.73" y1="236.5" x2="334.73" y2="232.4" stroke="#b4b4b4" stroke-width="1"/>
<line x1="350.58" y1="128.4" x2="350.58" y2="132.5" stroke="#b4b4b4" stroke-width="1"/>
<line x1="350.58" y1="236.5" x2="350.58" y2="232.4" stroke="#b4b4b4" stroke-width="1"/>
<line x1="366.42" y1="128.4" x2="366.42" y2="132.5" stroke="#b4b4b4" stroke-width="1"/>
<line x1="366.42" y1="236.5" x2="366.42" y2="232.4" stroke="#b4b4b4" stroke-width="1"/>
<line x1="382.27" y1="128.4" x2="382.27" y2="132.5" stroke="#b4b4b4" stroke-width="1"/>
<line x1="382.27" y1="236.5" x2="382.27" y2="232.4" stroke="#b4b4b4" stroke-width="1"/>
<line x1="398.12" y1="128.4" x2="398.12" y2="132.5" stroke="#b4b4b4" stroke-width="1"/>
<line x1="398.12" y1="236.5" x2="398.12" y2="232.4" stroke="#b4b4b4" stroke-width="1"/>
<line x1="413.96" y1="128.4" x2="413.96" y2="132.5" stroke="#b4b4b4" stroke-width="1"/>
<line x1="413.96" y1="236.5" x2="413.96" y2="232.4" stroke="#b4b4b4" stroke-width="1"/>
<line x1="429.81" y1="128.4" x2="429.81" y2="132.5" stroke="#b4b4b4" stroke-width="1"/>
<line x1="429.81" y1="236.5" x2="429.81" y2="232.4" stroke="#b4b4b4" stroke-width="1"/>
<line x1="445.65" y1="128.4" x2="445.65" y2="132.5" stroke="#b4b4b4" stroke-width="1"/>
<line x1="445.65" y1="236.5" x2="445.65" y2="232.4" stroke="#b4b4b4" stroke-width="1"/>
<line x1="49.5" y1="133.70" x2="53.6" y2="133.70" stroke="#b4b4b4" stroke-width="1"/>
<line x1="49.5" y1="159.40" x2="53.6" y2="159.40" stroke="#b4b4b4" stroke-width="1"/>
<line x1="49.5" y1="185.10" x2="53.6" y2="185.10" stroke="#b4b4b4" stroke-width="1"/>
<line x1="49.5" y1="210.80" x2="53.6" y2="210.80" stroke="#b4b4b4" stroke-width="1"/>
<line x1="49.5" y1="236.50" x2="53.6" y2="236.50" stroke="#b4b4b4" stroke-width="1"/>
<line x1="461.5" y1="133.70" x2="457.4" y2="133.70" stroke="#b4b4b4" stroke-width="1"/>
<line x1="461.5" y1="159.40" x2="457.4" y2="159.40" stroke="#b4b4b4" stroke-width="1"/>
<line x1="461.5" y1="185.10" x2="457.4" y2="185.10" stroke="#b4b4b4" stroke-width="1"/>
<line x1="461.5" y1="210.80" x2="457.4" y2="210.80" stroke="#b4b4b4" stroke-width="1"/>
<line x1="461.5" y1="236.50" x2="457.4" y2="236.50" stroke="#b4b4b4" stroke-width="1"/>
<line x1="49.5" y1="128.4" x2="461.5" y2="128.4" stroke="#b4b4b4" stroke-width="1"/>
<line x1="49.5" y1="236.5" x2="461.5" y2="236.5" stroke="#b4b4b4" stroke-width="1"/>
<line x1="461.5" y1="127.9" x2="461.5" y2="237.0" stroke="#b4b4b4" stroke-width="1"/>
<line x1="49.5" y1="127.9" x2="49.5" y2="237.0" stroke="#b4b4b4" stroke-width="1"/>
<line x1="136.6" y1="128.4" x2="136.6" y2="236.5" stroke="#000" stroke-width="1.25"/>
<line x1="279.1" y1="128.4" x2="279.1" y2="236.5" stroke="#000" stroke-width="1.25"/>
<text x="46.60" y="136.60" font-size="7.27" fill="#262626" stroke="#262626" stroke-width="0.1" text-anchor="end" >2.0</text>
<text x="46.60" y="162.30" font-size="7.27" fill="#262626" stroke="#262626" stroke-width="0.1" text-anchor="end" >1.5</text>
<text x="46.60" y="188.00" font-size="7.27" fill="#262626" stroke="#262626" stroke-width="0.1" text-anchor="end" >1.0</text>
<text x="46.60" y="213.70" font-size="7.27" fill="#262626" stroke="#262626" stroke-width="0.1" text-anchor="end" >0.5</text>
<text x="46.60" y="239.40" font-size="7.27" fill="#262626" stroke="#262626" stroke-width="0.1" text-anchor="end" >0.0</text>
<text transform="translate(32.50,183.80) rotate(-90)" font-size="8.0" fill="#262626" stroke="#262626" stroke-width="0.2" text-anchor="middle">Gas exchange rate (cm h<tspan dy="-3.2" font-size="6.4">-1</tspan><tspan dy="3.2">)</tspan></text>
<text x="51.90" y="140.80" font-size="10.2" fill="#000" stroke="#000" stroke-width="0.1" text-anchor="start" >(c)</text>
<text transform="translate(54.40,245.00) rotate(-45)" font-size="7.0" fill="#262626" stroke="#262626" stroke-width="0.2" text-anchor="end">21/22 May</text>
<text transform="translate(70.25,245.00) rotate(-45)" font-size="7.0" fill="#262626" stroke="#262626" stroke-width="0.2" text-anchor="end">22/23 May</text>
<text transform="translate(86.09,245.00) rotate(-45)" font-size="7.0" fill="#262626" stroke="#262626" stroke-width="0.2" text-anchor="end">23/24 May</text>
<text transform="translate(101.94,245.00) rotate(-45)" font-size="7.0" fill="#262626" stroke="#262626" stroke-width="0.2" text-anchor="end">24/25 May</text>
<text transform="translate(117.78,245.00) rotate(-45)" font-size="7.0" fill="#262626" stroke="#262626" stroke-width="0.2" text-anchor="end">25/26 May</text>
<text transform="translate(133.63,245.00) rotate(-45)" font-size="7.0" fill="#262626" stroke="#262626" stroke-width="0.2" text-anchor="end">26/27 May</text>
<text transform="translate(149.48,245.00) rotate(-45)" font-size="7.0" fill="#262626" stroke="#262626" stroke-width="0.2" text-anchor="end">27/28 May</text>
<text transform="translate(165.32,245.00) rotate(-45)" font-size="7.0" fill="#262626" stroke="#262626" stroke-width="0.2" text-anchor="end">28/29 May</text>
<text transform="translate(181.17,245.00) rotate(-45)" font-size="7.0" fill="#262626" stroke="#262626" stroke-width="0.2" text-anchor="end">29/30 May</text>
<text transform="translate(197.02,245.00) rotate(-45)" font-size="7.0" fill="#262626" stroke="#262626" stroke-width="0.2" text-anchor="end">30/31 May</text>
<text transform="translate(212.86,245.00) rotate(-45)" font-size="7.0" fill="#262626" stroke="#262626" stroke-width="0.2" text-anchor="end">31 May/01 June</text>
<text transform="translate(228.71,245.00) rotate(-45)" font-size="7.0" fill="#262626" stroke="#262626" stroke-width="0.2" text-anchor="end">01/02 June</text>
<text transform="translate(244.55,245.00) rotate(-45)" font-size="7.0" fill="#262626" stroke="#262626" stroke-width="0.2" text-anchor="end">02/03 June</text>
<text transform="translate(260.40,245.00) rotate(-45)" font-size="7.0" fill="#262626" stroke="#262626" stroke-width="0.2" text-anchor="end">03/04 June</text>
<text transform="translate(276.25,245.00) rotate(-45)" font-size="7.0" fill="#262626" stroke="#262626" stroke-width="0.2" text-anchor="end">04/05 June</text>
<text transform="translate(292.09,245.00) rotate(-45)" font-size="7.0" fill="#262626" stroke="#262626" stroke-width="0.2" text-anchor="end">05/06 June</text>
<text transform="translate(307.94,245.00) rotate(-45)" font-size="7.0" fill="#262626" stroke="#262626" stroke-width="0.2" text-anchor="end">06/07 June</text>
<text transform="translate(323.78,245.00) rotate(-45)" font-size="7.0" fill="#262626" stroke="#262626" stroke-width="0.2" text-anchor="end">07/08 June</text>
<text transform="translate(339.63,245.00) rotate(-45)" font-size="7.0" fill="#262626" stroke="#262626" stroke-width="0.2" text-anchor="end">08/09 June</text>
<text transform="translate(355.48,245.00) rotate(-45)" font-size="7.0" fill="#262626" stroke="#262626" stroke-width="0.2" text-anchor="end">09/10 June</text>
<text transform="translate(371.32,245.00) rotate(-45)" font-size="7.0" fill="#262626" stroke="#262626" stroke-width="0.2" text-anchor="end">10/11 June</text>
<text transform="translate(387.17,245.00) rotate(-45)" font-size="7.0" fill="#262626" stroke="#262626" stroke-width="0.2" text-anchor="end">11/12 June</text>
<text transform="translate(403.02,245.00) rotate(-45)" font-size="7.0" fill="#262626" stroke="#262626" stroke-width="0.2" text-anchor="end">12/13 June</text>
<text transform="translate(418.86,245.00) rotate(-45)" font-size="7.0" fill="#262626" stroke="#262626" stroke-width="0.2" text-anchor="end">13/14 June</text>
<text transform="translate(434.71,245.00) rotate(-45)" font-size="7.0" fill="#262626" stroke="#262626" stroke-width="0.2" text-anchor="end">14/15 June</text>
<text transform="translate(450.55,245.00) rotate(-45)" font-size="7.0" fill="#262626" stroke="#262626" stroke-width="0.2" text-anchor="end">15/16 June</text>
<text transform="translate(466.40,245.00) rotate(-45)" font-size="7.0" fill="#262626" stroke="#262626" stroke-width="0.2" text-anchor="end">16/17 June</text>
</svg>
</body></html>
